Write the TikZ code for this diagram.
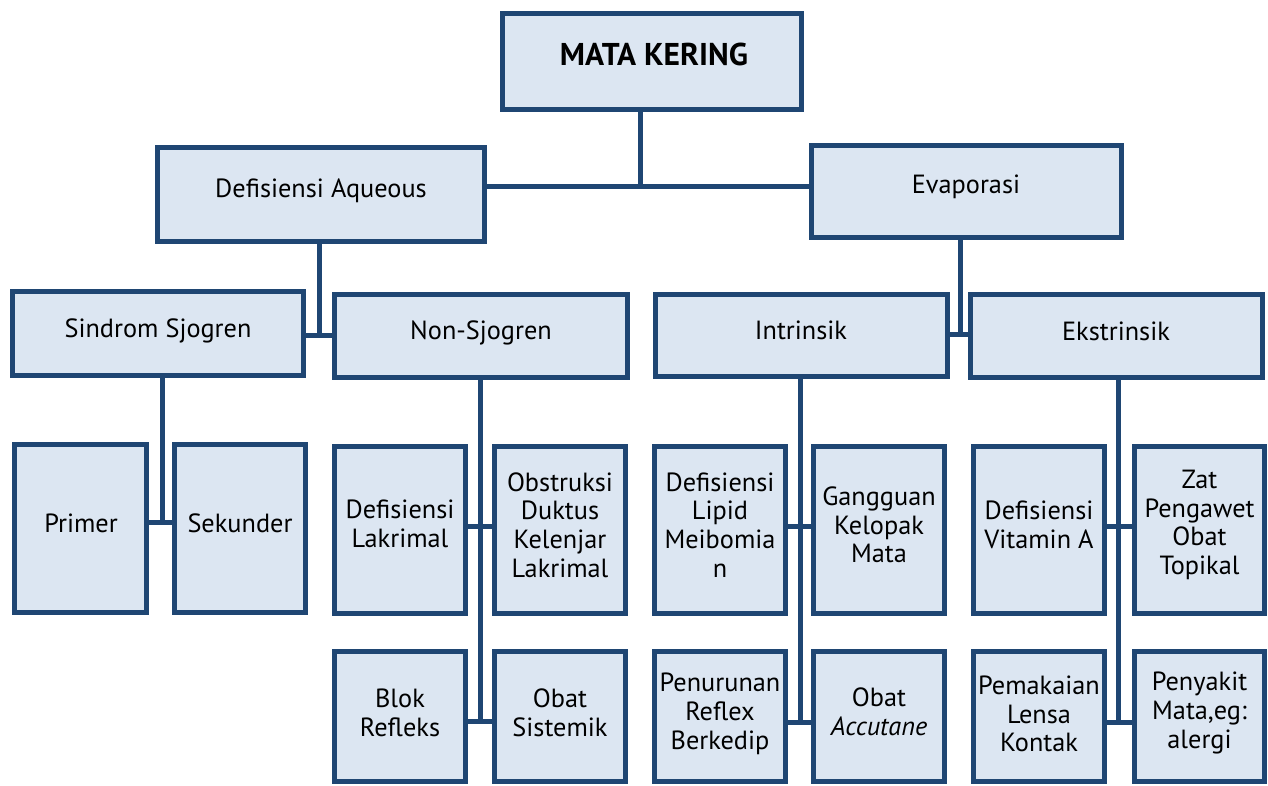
\documentclass[tikz,border=0pt]{standalone}
\usepackage{fontspec}
\setmainfont{PT Sans}
\definecolor{bd}{HTML}{1F4673}
\definecolor{bf}{HTML}{DCE6F2}
\newcommand\mybox[5]{\node[box, minimum width={#4-#2-5}, minimum height={#5-#3-5}] (#1) at ({(#2+#4)/2},{(#3+#5)/2}) {};}
\begin{document}
\begin{tikzpicture}[x=1pt,y=-1pt,
  box/.style={draw=bd, fill=bf, line width=5pt, rectangle, inner sep=0pt, outer sep=0pt},
  lbl/.style={align=center, inner sep=0pt, font=\fontsize{26.3}{28.7}\selectfont, text=black},
  ttl/.style={inner sep=0pt, font=\fontsize{31.5}{34}\selectfont\bfseries, text=black},
  conn/.style={draw=bd, line width=5pt}]
\fill[white] (0,0) rectangle (1268,785);
\useasboundingbox (0,0) rectangle (1268,785);
% boxes
\mybox{top}{500}{11}{804}{112}
\mybox{da}{155}{145}{487}{244}
\mybox{ev}{809}{143}{1124}{240}
\mybox{sj}{10}{289}{306}{378}
\mybox{ns}{332}{292}{630}{380}
\mybox{in}{653}{292}{950}{379}
\mybox{ek}{968}{292}{1265}{380}
\mybox{pr}{12}{442}{149}{615}
\mybox{se}{172}{442}{308}{615}
\mybox{dl}{332}{444}{468}{616}
\mybox{ob}{492}{444}{628}{616}
\mybox{bl}{332}{649}{468}{784}
\mybox{os}{492}{649}{628}{784}
\mybox{li}{652}{444}{788}{616}
\mybox{ga}{811}{444}{947}{616}
\mybox{pe}{652}{649}{788}{784}
\mybox{ac}{811}{649}{947}{784}
\mybox{va}{971}{444}{1107}{616}
\mybox{za}{1132}{444}{1267}{616}
\mybox{pm}{971}{649}{1107}{784}
\mybox{py}{1132}{649}{1267}{784}
% junctions
\coordinate (j0) at (640,186);
\coordinate (j1) at (319,335);
\coordinate (j2) at (960,334);
\coordinate (j3) at (162,522);
\coordinate (j4a) at (480,526);
\coordinate (j4b) at (480,721);
\coordinate (j5a) at (800,526);
\coordinate (j5b) at (800,722);
\coordinate (j6a) at (1118,526);
\coordinate (j6b) at (1118,722);
% connectors
\draw[conn] (top.south -| j0) -- (j0);
\draw[conn] (da.east |- j0) -- (ev.west |- j0);
\draw[conn] (da.south -| j1) -- (j1);
\draw[conn] (sj.east |- j1) -- (ns.west |- j1);
\draw[conn] (ev.south -| j2) -- (j2);
\draw[conn] (in.east |- j2) -- (ek.west |- j2);
\draw[conn] (sj.south -| j3) -- (j3);
\draw[conn] (pr.east |- j3) -- (se.west |- j3);
\draw[conn] (ns.south -| j4b) -- (j4b);
\draw[conn] (dl.east |- j4a) -- (ob.west |- j4a);
\draw[conn] (bl.east |- j4b) -- (os.west |- j4b);
\draw[conn] (in.south -| j5b) -- (j5b);
\draw[conn] (li.east |- j5a) -- (ga.west |- j5a);
\draw[conn] (pe.east |- j5b) -- (ac.west |- j5b);
\draw[conn] (ek.south -| j6b) -- (j6b);
\draw[conn] (va.east |- j6a) -- (za.west |- j6a);
\draw[conn] (pm.east |- j6b) -- (py.west |- j6b);
% labels
\node[ttl, anchor=base] (t-top) at (654,65) {MATA KERING};
\node[lbl, anchor=base] (t-da) at (321,197) {Defisiensi Aqueous};
\node[lbl, anchor=base] (t-ev) at (966,193) {Evaporasi};
\node[lbl, anchor=base] (t-sj) at (158,337) {Sindrom Sjogren};
\node[lbl, anchor=base] (t-ns) at (481,339) {Non-Sjogren};
\node[lbl, anchor=base] (t-in) at (801,339) {Intrinsik};
\node[lbl, anchor=base] (t-ek) at (1116,340) {Ekstrinsik};
\node[lbl, anchor=base] (t-pr) at (81,532) {Primer};
\node[lbl, anchor=base] (t-se) at (240,532) {Sekunder};
\node[lbl] (t-dl) at (400,524) {Defisiensi\\Lakrimal};
\node[lbl] (t-ob) at (560,525) {Obstruksi\\Duktus\\Kelenjar\\Lakrimal};
\node[lbl] (t-bl) at (400,712.5) {Blok\\Refleks};
\node[lbl] (t-os) at (560,712.5) {Obat\\Sistemik};
\node[lbl] (t-li) at (720,525) {Defisiensi\\Lipid\\Meibomia\\n};
\node[lbl] (t-ga) at (879,525) {Gangguan\\Kelopak\\Mata};
\node[lbl] (t-pe) at (720,714) {Penurunan\\Reflex\\Berkedip};
\node[lbl] (t-ac) at (879,712) {Obat\\\textit{Accutane}};
\node[lbl] (t-va) at (1039,525) {Defisiensi\\Vitamin A};
\node[lbl] (t-za) at (1199.5,525) {Zat\\Pengawet\\Obat\\Topikal};
\node[lbl] (t-pm) at (1039,714) {Pemakaian\\Lensa\\Kontak};
\node[lbl] (t-py) at (1199.5,713) {Penyakit\\Mata,eg:\\alergi};
\end{tikzpicture}
\end{document}
